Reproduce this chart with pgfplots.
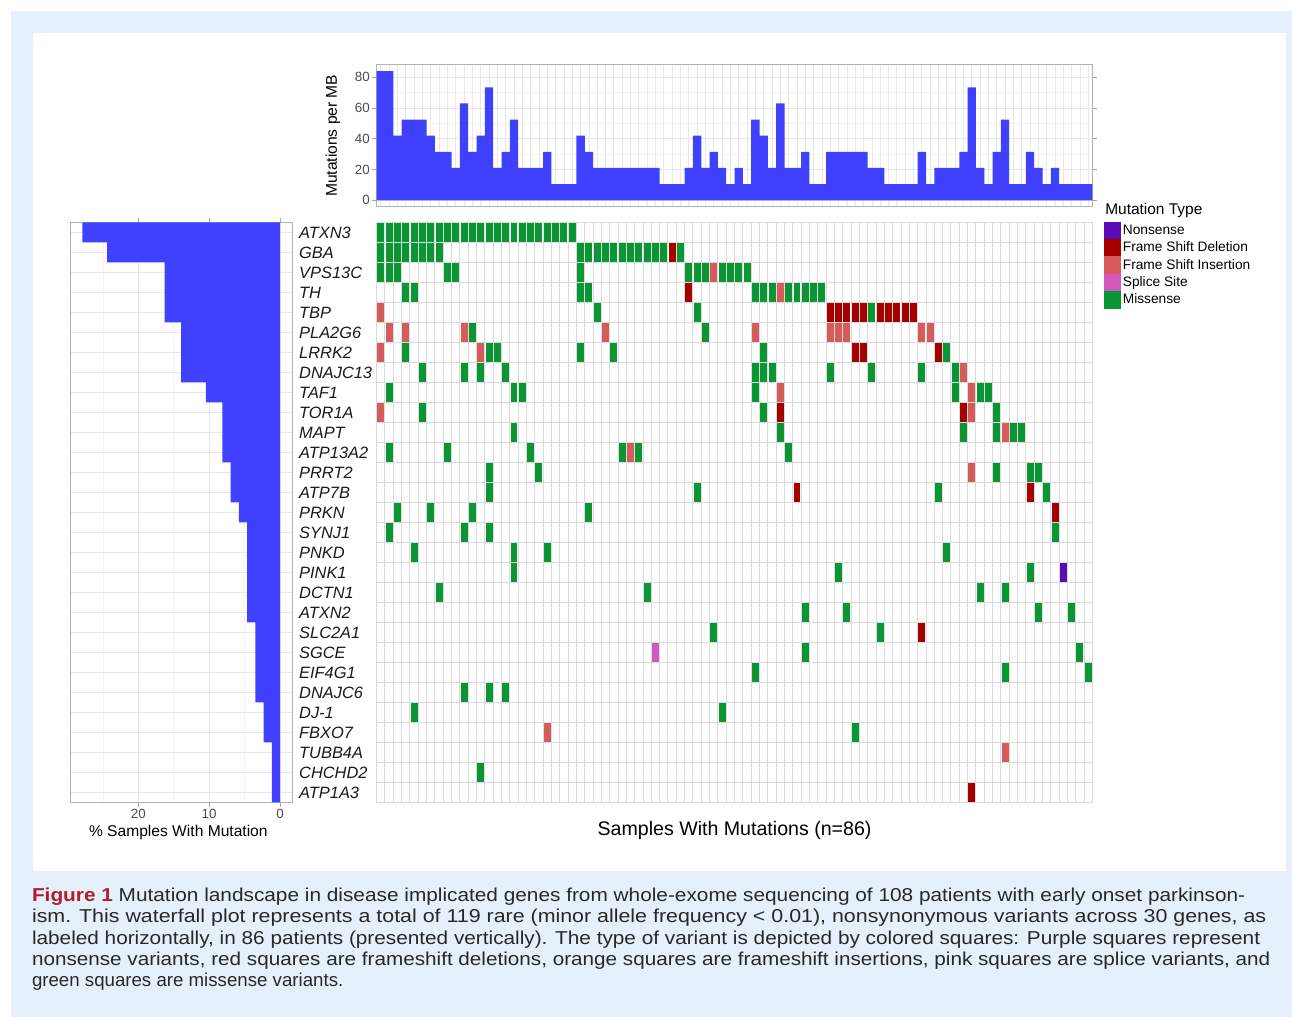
\documentclass[border=0pt]{standalone}
\usepackage{pgfplots}
\pgfplotsset{compat=1.18}
\usepackage{fontspec}
\setmainfont{Liberation Sans}
\usepackage{graphicx}
\definecolor{bgblue}{RGB}{230,240,250}
\definecolor{barblue}{RGB}{64,64,255}
\definecolor{cNon}{RGB}{90,12,180}
\definecolor{cDel}{RGB}{165,0,0}
\definecolor{cIns}{RGB}{214,92,92}
\definecolor{cSpl}{RGB}{210,88,190}
\definecolor{cMis}{RGB}{10,150,50}
\definecolor{gridc}{RGB}{218,218,218}
\definecolor{capred}{RGB}{178,28,45}
\definecolor{captxt}{RGB}{40,40,40}
\definecolor{ticktxt}{RGB}{77,77,77}
\definecolor{labtxt}{RGB}{26,26,26}
\pgfdeclareplotmark{tile}{\pgfpathrectangle{\pgfpoint{-2.62pt}{-7pt}}{\pgfpoint{5.24pt}{14pt}}\pgfusepathqfill}
\begin{document}
\begin{tikzpicture}
\useasboundingbox (0,0) rectangle (969pt,762.75pt);
\fill[white] (0,0) rectangle (969pt,762.75pt);
\fill[bgblue] (8.25pt,0pt) rectangle (969pt,754.5pt);
\fill[white] (25pt,109.7pt) rectangle (964.5pt,738pt);

% ---------- top bar chart ----------
\begin{axis}[
  at={(282.5pt,607.7pt)}, anchor=south west,
  scale only axis, width=536.85pt, height=106.5pt,
  xmin=0.5, xmax=86.5, ymin=-4.2, ymax=88.2,
  ybar, bar width=1,
  xtick={1,...,86}, xticklabels={},
  ytick={0,20,40,60,80}, minor ytick={10,30,50,70},
  xmajorgrids, ymajorgrids, yminorgrids,
  major grid style={draw=gray!18, line width=0.6pt},
  minor grid style={draw=gray!10, line width=0.4pt},
  axis line style={draw=gray!60, line width=0.6pt},
  tick align=outside, major tick length=3.5pt, minor tick length=0pt,
  xtick style={draw=none}, ytick style={draw=gray!70, line width=0.6pt},
  yticklabel style={font=\fontsize{10}{12}\selectfont, text=ticktxt, inner sep=1.5pt},
  /pgf/number format/assume math mode=true,
  ylabel={Mutations per MB},
  ylabel style={font=\fontsize{11.7}{13}\selectfont, at={(axis description cs:-0.0611,0.5)}, anchor=center},
]
\addplot[fill=barblue, draw=none] coordinates {
(1,84)(2,84)(3,42)(4,52.5)(5,52.5)(6,52.5)(7,42)(8,31.5)(9,31.5)(10,21)
(11,63)(12,31.5)(13,42)(14,73.5)(15,21)(16,31.5)(17,52.5)(18,21)(19,21)(20,21)
(21,31.5)(22,10.5)(23,10.5)(24,10.5)(25,42)(26,31.5)(27,21)(28,21)(29,21)(30,21)
(31,21)(32,21)(33,21)(34,21)(35,10.5)(36,10.5)(37,10.5)(38,21)(39,42)(40,21)
(41,31.5)(42,21)(43,10.5)(44,21)(45,10.5)(46,52.5)(47,42)(48,21)(49,63)(50,21)
(51,21)(52,31.5)(53,10.5)(54,10.5)(55,31.5)(56,31.5)(57,31.5)(58,31.5)(59,31.5)(60,21)
(61,21)(62,10.5)(63,10.5)(64,10.5)(65,10.5)(66,31.5)(67,10.5)(68,21)(69,21)(70,21)
(71,31.5)(72,73.5)(73,21)(74,10.5)(75,31.5)(76,52.5)(77,10.5)(78,10.5)(79,31.5)(80,21)
(81,10.5)(82,21)(83,10.5)(84,10.5)(85,10.5)(86,10.5)};
\end{axis}

% ---------- left bar chart ----------
\begin{axis}[
  at={(52.9pt,160.9pt)}, anchor=south west,
  scale only axis, width=166.35pt, height=435pt,
  xbar, bar width=1,
  x dir=reverse, xmin=-1.74, xmax=29.57,
  y dir=reverse, ymin=0.5, ymax=29.5,
  ytick={1,...,29}, yticklabels={}, ytick style={draw=none},
  xtick={0,10,20}, minor xtick={5,15,25},
  xmajorgrids, xminorgrids, ymajorgrids,
  major grid style={draw=gray!18, line width=0.6pt},
  minor grid style={draw=gray!10, line width=0.4pt},
  axis line style={draw=gray!60, line width=0.6pt},
  tick align=outside, major tick length=3.5pt, minor tick length=0pt,
  xtick style={draw=gray!70, line width=0.6pt},
  xticklabel style={font=\fontsize{10}{12}\selectfont, text=ticktxt, inner sep=1.5pt},
  /pgf/number format/assume math mode=true,
  xlabel={\% Samples With Mutation},
  xlabel style={font=\fontsize{11.7}{13}\selectfont, at={(axis description cs:0.486,-0.051)}, anchor=center},
]
\addplot[fill=barblue, draw=none] coordinates {
(27.907,1)(24.419,2)(16.279,3)(16.279,4)(16.279,5)(13.953,6)(13.953,7)(13.953,8)
(10.465,9)(8.140,10)(8.140,11)(8.140,12)(6.977,13)(6.977,14)(5.814,15)(4.651,16)
(4.651,17)(4.651,18)(4.651,19)(4.651,20)(3.488,21)(3.488,22)(3.488,23)(3.488,24)
(2.326,25)(2.326,26)(1.163,27)(1.163,28)(1.163,29)};
\end{axis}

% ---------- mutation grid ----------
\begin{axis}[
  at={(282.5pt,160.9pt)}, anchor=south west,
  scale only axis, width=536.85pt, height=435pt,
  xmin=0.5, xmax=86.5, ymin=0.5, ymax=29.5, y dir=reverse,
  xtick={0.5,1.5,...,86.5}, xticklabels={}, xmajorgrids,
  ytick={1,...,29},
  yticklabels={ATXN3,GBA,VPS13C,TH,TBP,PLA2G6,LRRK2,DNAJC13,TAF1,TOR1A,MAPT,ATP13A2,PRRT2,ATP7B,PRKN,SYNJ1,PNKD,PINK1,DCTN1,ATXN2,SLC2A1,SGCE,EIF4G1,DNAJC6,DJ-1,FBXO7,TUBB4A,CHCHD2,ATP1A3},
  minor ytick={0.5,1.5,...,29.5}, yminorgrids,
  major grid style={draw=gridc, line width=0.75pt},
  minor grid style={draw=gridc, line width=0.75pt},
  major tick length=0pt, minor tick length=0pt,
  axis line style={draw=gridc, line width=0.75pt},
  axis on top,
  yticklabel style={anchor=west, inner sep=0pt, xshift=-58.3pt, font=\fontsize{12.3}{14}\selectfont\itshape, text=labtxt},
  xlabel={Samples With Mutations (n=86)},
  xlabel style={font=\fontsize{14.7}{16}\selectfont, at={(axis description cs:0.5,-0.049)}, anchor=center},
  legend cell align=left,
  legend style={at={(axis description cs:1.0161,1.0009)}, anchor=north west, draw=none, fill=none,
    inner sep=0pt, outer sep=0pt, row sep=0pt, font=\fontsize{10.3}{12}\selectfont,
    /tikz/every even column/.append style={column sep=5.5pt}},
  legend image code/.code={\fill[#1] (0pt,-6.25pt) rectangle (11.75pt,6.25pt);},
]
% Nonsense
\addplot[only marks, mark=tile, cNon] coordinates {(83,18)};
\addlegendentry{Nonsense}
% Frame shift deletion
\addplot[only marks, mark=tile, cDel] coordinates {
(36,2)(38,4)(55,5)(56,5)(57,5)(58,5)(59,5)(61,5)(62,5)(63,5)(64,5)(65,5)
(58,7)(59,7)(68,7)(49,10)(71,10)(51,14)(79,14)(82,15)(66,21)(72,29)};
\addlegendentry{Frame Shift Deletion}
% Frame shift insertion
\addplot[only marks, mark=tile, cIns] coordinates {
(41,3)(49,4)(1,5)(2,6)(4,6)(11,6)(28,6)(46,6)(55,6)(56,6)(57,6)(66,6)(67,6)
(1,7)(13,7)(71,8)(49,9)(72,9)(1,10)(72,10)(76,11)(31,12)(72,13)(21,26)(76,27)};
\addlegendentry{Frame Shift Insertion}
% Splice site
\addplot[only marks, mark=tile, cSpl] coordinates {(34,22)};
\addlegendentry{Splice Site}
% Missense
\addplot[only marks, mark=tile, cMis] coordinates {
(1,1)(2,1)(3,1)(4,1)(5,1)(6,1)(7,1)(8,1)(9,1)(10,1)(11,1)(12,1)
(13,1)(14,1)(15,1)(16,1)(17,1)(18,1)(19,1)(20,1)(21,1)(22,1)(23,1)(24,1)
(1,2)(2,2)(3,2)(4,2)(5,2)(6,2)(7,2)(8,2)(25,2)(26,2)(27,2)(28,2)(29,2)(30,2)
(31,2)(32,2)(33,2)(34,2)(35,2)(37,2)
(1,3)(2,3)(3,3)(9,3)(10,3)(25,3)(38,3)(39,3)(40,3)(42,3)(43,3)(44,3)(45,3)
(4,4)(5,4)(25,4)(26,4)(46,4)(47,4)(48,4)(50,4)(51,4)(52,4)(53,4)(54,4)
(27,5)(39,5)(60,5)
(12,6)(40,6)
(4,7)(14,7)(15,7)(25,7)(29,7)(47,7)(69,7)
(6,8)(11,8)(13,8)(16,8)(46,8)(47,8)(48,8)(55,8)(60,8)(66,8)(70,8)
(2,9)(17,9)(18,9)(46,9)(70,9)(73,9)(74,9)
(6,10)(47,10)(75,10)
(17,11)(49,11)(71,11)(75,11)(77,11)(78,11)
(2,12)(9,12)(19,12)(30,12)(32,12)(50,12)
(14,13)(20,13)(75,13)(79,13)(80,13)
(14,14)(39,14)(68,14)(81,14)
(3,15)(7,15)(12,15)(26,15)
(2,16)(11,16)(14,16)(82,16)
(5,17)(17,17)(21,17)(69,17)
(17,18)(56,18)(79,18)
(8,19)(33,19)(73,19)(76,19)
(52,20)(57,20)(80,20)(84,20)
(41,21)(61,21)
(52,22)(85,22)
(46,23)(76,23)(86,23)
(11,24)(14,24)(16,24)
(5,25)(42,25)
(58,26)
(13,28)};
\addlegendentry{Missense}
\end{axis}

\node[anchor=west, inner sep=0pt, font=\fontsize{11.6}{13}\selectfont] at (828.75pt,604.5pt) {Mutation Type};

% ---------- caption ----------
\begin{scope}[every node/.style={anchor=base west, inner sep=0pt, text=captxt, font=\fontsize{14}{16}\selectfont}]
\node at (23.8pt,86.5pt) {\resizebox{910pt}{\height}{\textcolor{capred}{\textbf{Figure 1}} Mutation landscape in disease implicated genes from whole-exome sequencing of 108 patients with early onset parkinson-}};
\node at (23.8pt,70.5pt) {\resizebox{925.7pt}{\height}{ism. This waterfall plot represents a total of 119 rare (minor allele frequency < 0.01), nonsynonymous variants across 30 genes, as}};
\node at (23.8pt,54.6pt) {\resizebox{921.2pt}{\height}{labeled horizontally, in 86 patients (presented vertically). The type of variant is depicted by colored squares: Purple squares represent}};
\node at (23.8pt,38.6pt) {\resizebox{928.7pt}{\height}{nonsense variants, red squares are frameshift deletions, orange squares are frameshift insertions, pink squares are splice variants, and}};
\node at (23.8pt,22.7pt) {\resizebox{233.5pt}{\height}{green squares are missense variants.}};
\end{scope}
\end{tikzpicture}
\end{document}
